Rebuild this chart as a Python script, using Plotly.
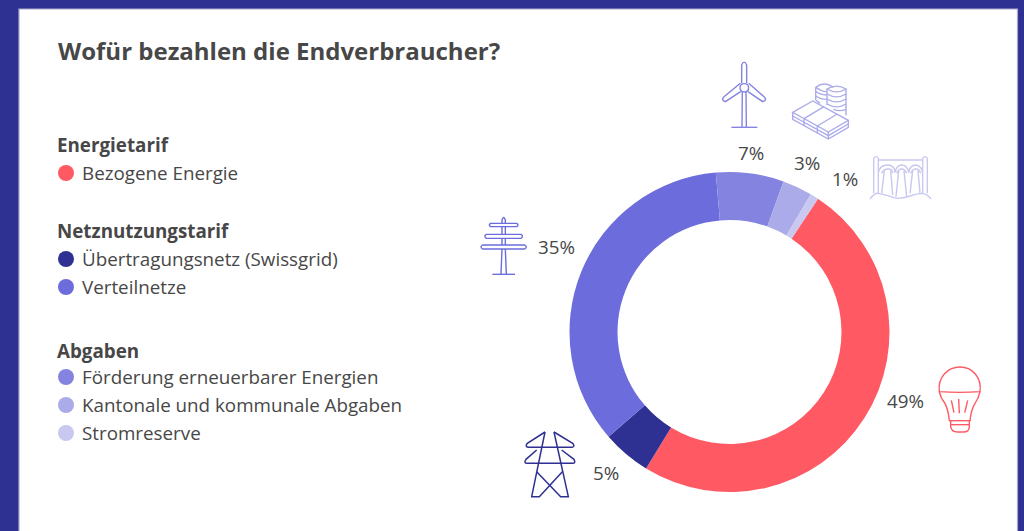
import plotly.graph_objects as go

# ---------- data ----------
categories = ["Bezogene Energie", "Übertragungsnetz (Swissgrid)", "Verteilnetze",
              "Förderung erneuerbarer Energien", "Kantonale und kommunale Abgaben", "Stromreserve"]
values = [49.4, 4.9, 35.0, 6.85, 3.0, 0.85]
value_labels = ["49%", "5%", "35%", "7%", "3%", "1%"]
colors = ["#FF5A64", "#2E3192", "#6C6CDC", "#8484E0", "#ABABEA", "#C8C8F0"]
title_text = "Wofür bezahlen die Endverbraucher?"
groups = ["Energietarif", "Netznutzungstarif", "Abgaben"]

W, H = 1024, 531
FRAME = "#2E3192"
TEXT = "#474747"
FONT = "Open Sans"

# ---------- layout constants (pixels) ----------
CX, CY, R = 729.5, 332, 160
label_xy = [(905.5, 401), (605.5, 473), (556.5, 247), (750.5, 153), (807, 163), (845, 179)]
legend_y = {"Bezogene Energie": 173, "Übertragungsnetz (Swissgrid)": 259, "Verteilnetze": 287,
            "Förderung erneuerbarer Energien": 377, "Kantonale und kommunale Abgaben": 405,
            "Stromreserve": 433}
group_y = [145, 231, 350.5]

fig = go.Figure()
fig.add_trace(go.Pie(
    values=values, labels=categories, sort=False, direction="clockwise", rotation=33.6,
    hole=0.7, marker=dict(colors=colors, line=dict(width=0)), textinfo="none",
    hoverinfo="label+percent", showlegend=False,
    domain=dict(x=[(CX - R) / W, (CX + R) / W], y=[1 - (CY + R) / H, 1 - (CY - R) / H]),
))

# legend dots through a pixel axis
fig.add_trace(go.Scatter(
    x=[66] * len(categories), y=[legend_y[c] for c in categories], mode="markers",
    marker=dict(size=16, color=colors, line=dict(width=0)), hoverinfo="skip", showlegend=False,
    xaxis="x", yaxis="y",
))

shapes = [dict(type="rect", xref="x", yref="y", x0=19, x1=1017.5, y0=9, y1=H + 5,
               fillcolor="white", line=dict(color="#A9A9CF", width=1.2), layer="below")]


def icon(ox, oy, segs, color, width=1.4):
    """segs: SVG-style path strings written in 3x zoom coordinates relative to (ox, oy)."""
    for seg in segs:
        out, toks = [], seg.split()
        is_x = True
        for t in toks:
            if t.isalpha():
                out.append(t)
                is_x = True
            else:
                v = float(t) / 3 + (ox if is_x else oy)
                out.append(f"{v:.2f}")
                is_x = not is_x
        shapes.append(dict(type="path", xref="x", yref="y", path=" ".join(out),
                           line=dict(color=color, width=width), fillcolor="rgba(0,0,0,0)"))


# wind turbine
icon(700, 50, [
    "M 125 100 L 125 45 Q 132 28 140 45 L 140 100",
    "M 121 100 L 72 140 Q 62 150 76 155 L 122 125",
    "M 146 100 L 192 140 Q 203 150 188 155 L 144 125",
    "M 133 101 C 150 101 150 126 133 126 C 116 126 116 101 133 101 Z",
    "M 127 126 L 126 232 M 138 126 L 139 232",
    "M 94 232 L 172 232",
], colors[3])

# money and coins
icon(700, 50, [
    "M 278 187 L 338 153 L 445 211 L 385 246 Z",
    "M 278 187 L 278 208 L 385 267 L 445 232 L 445 211",
    "M 278 198 L 385 257 L 445 222",
    "M 312 206 L 372 170 M 352 228 L 412 192",
    "M 312 206 L 312 228 M 352 228 L 352 250 M 385 246 L 385 267",
    "M 347 112 Q 373 92 400 112 M 347 112 Q 373 128 380 124",
    "M 347 112 L 347 150 M 347 124 Q 358 134 380 135 M 347 137 Q 358 147 380 148 M 347 150 L 360 160",
    "M 381 117 Q 410 100 438 117 Q 410 134 381 117 Z",
    "M 381 117 L 381 165 M 438 117 L 438 196",
    "M 381 132 Q 410 149 438 132 M 381 147 Q 410 164 438 147 M 381 162 Q 410 179 438 162 M 400 178 Q 420 186 438 178",
], colors[4])

# dam
icon(700, 50, [
    "M 521 325 Q 528 315 535 325 L 535 430 M 521 325 L 521 430",
    "M 668 325 Q 675 315 682 325 L 682 430 M 668 325 L 668 430",
    "M 535 330 L 668 330",
    "M 535 368 Q 540 345 562 345 Q 584 345 585 368 Q 590 345 605 345 Q 622 345 626 368 Q 630 345 648 345 Q 664 347 668 368",
    "M 545 370 Q 550 357 564 357 Q 578 357 578 370 M 590 370 Q 595 357 605 357 Q 615 357 620 370 M 632 370 Q 637 357 648 357 Q 658 357 662 370",
    "M 553 362 L 545 430 M 572 362 L 578 435 M 596 362 L 588 440 M 612 362 L 620 440 M 638 362 L 630 430 M 654 362 L 660 430",
    "M 510 447 Q 525 428 535 430 Q 560 435 590 445 Q 610 445 630 438 Q 650 430 668 430 Q 682 432 693 447",
], colors[5])

# distribution pole
icon(470, 200, [
    "M 96 70 L 96 60 Q 101 45 106 60 L 106 70 M 96 80 L 96 103 M 106 80 L 106 103 M 96 115 L 96 135 M 106 115 L 106 135",
    "M 96 147 L 93 223 M 106 147 L 109 223",
    "M 62 70 L 140 70 Q 148 75 140 80 L 62 80 Q 54 75 62 70 Z",
    "M 49 103 L 153 103 Q 162 109 153 115 L 49 115 Q 40 109 49 103 Z",
    "M 38 135 L 164 135 Q 174 141 164 147 L 38 147 Q 28 141 38 135 Z",
    "M 67 223 L 135 223",
], colors[2])

# transmission pylon
icon(510, 420, [
    "M 105 36 L 52 70 Q 44 80 55 82 L 186 82 Q 196 80 188 70 L 132 36",
    "M 80 90 L 48 118 Q 40 129 52 130 L 188 130 Q 198 129 192 118 L 155 90",
    "M 105 36 L 65 230 L 88 230 L 157 155",
    "M 132 36 L 175 230 L 152 230 L 80 155",
], colors[1], 1.5)

# light bulb
icon(880, 355, [
    "M 178 110 C 172 65 205 36 240 36 C 275 36 306 65 300 110 Q 240 114 178 110 Z",
    "M 178 110 Q 182 130 195 145 Q 205 165 208 197",
    "M 300 110 Q 296 130 285 145 Q 273 165 270 197",
    "M 207 197 L 272 197",
    "M 212 197 L 212 215 Q 215 231 232 231 L 250 231 Q 268 231 268 215 L 268 197",
    "M 212 209 L 268 209",
    "M 214 136 L 222 173 M 236 132 L 238 175 M 263 136 L 254 173",
], colors[0], 1.4)

# ---------- texts ----------
ann = []


def add_text(x, y, text, size=18.8, bold=False, anchor="left"):
    ann.append(dict(x=x, y=y, xref="x", yref="y", text=f"<b>{text}</b>" if bold else text,
                    showarrow=False, xanchor=anchor, yanchor="middle",
                    font=dict(family=FONT, size=size, color=TEXT)))


add_text(56, 50, title_text, size=24, bold=True)
for g, y in zip(groups, group_y):
    add_text(55, y, g, bold=True)
for c in categories:
    add_text(80, legend_y[c], c)
for lab, (x, y) in zip(value_labels, label_xy):
    add_text(x, y, lab, anchor="center")

fig.update_layout(
    width=W, height=H, margin=dict(l=0, r=0, t=0, b=0), paper_bgcolor=FRAME, plot_bgcolor="rgba(0,0,0,0)",
    xaxis=dict(range=[0, W], visible=False, fixedrange=True, domain=[0, 1]),
    yaxis=dict(range=[H, 0], visible=False, fixedrange=True, domain=[0, 1]),
    shapes=shapes, annotations=ann, showlegend=False,
)

fig.write_html("out.html", config=dict(displayModeBar=False),
               post_script="document.body.style.margin='0';document.body.style.overflow='hidden';")
